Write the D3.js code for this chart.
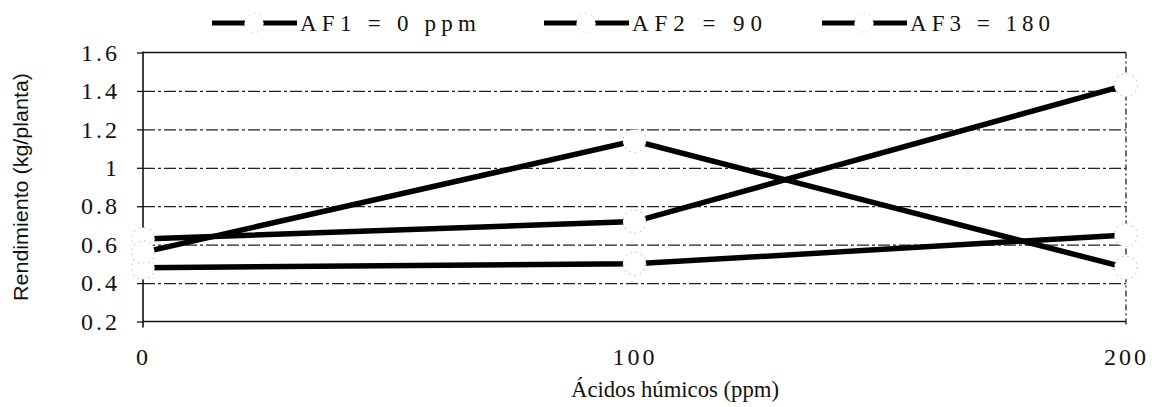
<!DOCTYPE html>
<html>
<head>
<meta charset="utf-8">
<script src="https://cdn.jsdelivr.net/npm/d3@7"></script>
<style>
  body { margin: 0; background: #fff; }
  svg { display: block; }
</style>
</head>
<body>
<svg id="chart" width="1152" height="407"></svg>
<script>
// Yield per plant against humic acid dose, for three fulvic acid levels
const categories = ["0", "100", "200"];
const seriesNames = ["AF1 = 0 ppm", "AF2 = 90", "AF3 = 180"];
const af1 = [0.48, 0.50, 0.65];
const af2 = [0.63, 0.72, 1.43];
const af3 = [0.56, 1.14, 0.48];
const yTicks = [0.2, 0.4, 0.6, 0.8, 1, 1.2, 1.4, 1.6];
const xTitle = "Ácidos húmicos (ppm)";
const yTitle = "Rendimiento (kg/planta)";

const series = [af1, af2, af3];

const svg = d3.select("#chart");
const plotLeft = 143, plotRight = 1126, plotTop = 52.5, plotBottom = 321.5;
const serif = "'Liberation Serif', 'Times New Roman', serif";

const x = d3.scalePoint().domain(categories).range([plotLeft, plotRight]);
const y = d3.scaleLinear().domain([0.2, 1.6]).range([plotBottom, plotTop]);

// dashed horizontal gridlines
const grid = svg.append("g")
  .attr("transform", `translate(${plotLeft},0)`)
  .call(d3.axisLeft(y).tickValues(yTicks.filter(v => v > 0.2 && v < 1.6))
    .tickSize(-(plotRight - plotLeft)).tickFormat(""));
grid.select(".domain").remove();
grid.selectAll("line")
  .attr("stroke", "#222")
  .attr("stroke-width", 1.2)
  .attr("stroke-dasharray", "12,3,3,3");

// plot frame: solid top and bottom, dashed right side
svg.append("line").attr("x1", plotLeft).attr("x2", plotRight).attr("y1", plotTop).attr("y2", plotTop)
  .attr("stroke", "#111").attr("stroke-width", 1.4);
svg.append("line").attr("x1", plotLeft).attr("x2", plotRight).attr("y1", plotBottom).attr("y2", plotBottom)
  .attr("stroke", "#111").attr("stroke-width", 1.4);
svg.append("line").attr("x1", plotRight).attr("x2", plotRight).attr("y1", plotTop).attr("y2", plotBottom + 5)
  .attr("stroke", "#222").attr("stroke-width", 1.3).attr("stroke-dasharray", "6,3,2,3");

// y axis with tick labels
const yAxis = svg.append("g")
  .attr("transform", `translate(${plotLeft},0)`)
  .call(d3.axisLeft(y).tickValues(yTicks).tickSize(6).tickPadding(17)
    .tickFormat(d3.format("")));
yAxis.attr("font-family", serif);
yAxis.select(".domain").remove();
yAxis.selectAll("line").attr("stroke", "#111").attr("stroke-width", 1.3);
yAxis.selectAll("text")
  .style("font-family", serif)
  .attr("font-size", 24)
  .attr("letter-spacing", 3)
  .attr("fill", "#111");
svg.append("line").attr("x1", plotLeft).attr("x2", plotLeft).attr("y1", plotTop - 1).attr("y2", plotBottom + 6)
  .attr("stroke", "#111").attr("stroke-width", 1.6);

// x axis tick labels
const xAxis = svg.append("g")
  .attr("transform", `translate(0,${plotBottom})`)
  .call(d3.axisBottom(x).tickSize(0).tickPadding(26));
xAxis.attr("font-family", serif);
xAxis.select(".domain").remove();
xAxis.selectAll("text")
  .style("font-family", serif)
  .attr("font-size", 24)
  .attr("letter-spacing", 3)
  .attr("fill", "#111");

// series lines
const line = d3.line()
  .x((d, i) => x(categories[i]))
  .y(d => y(d));

svg.append("g").selectAll("path").data(series).join("path")
  .attr("d", line)
  .attr("fill", "none")
  .attr("stroke", "#000")
  .attr("stroke-width", 5.5);

// hollow round markers that break the lines at each data point
svg.append("g").selectAll("g").data(series).join("g")
  .selectAll("circle").data(d => d).join("circle")
  .attr("cx", (d, i) => x(categories[i]))
  .attr("cy", d => y(d))
  .attr("r", 11.5)
  .attr("fill", "#fff")
  .attr("stroke", "#c4c4c4")
  .attr("stroke-width", 1.1)
  .attr("stroke-dasharray", "1.5,4");

// legend across the top
const legendX = [212, 544, 822];
const legendTextW = [176, 130, 140];
const legend = svg.append("g").selectAll("g").data(seriesNames).join("g")
  .attr("transform", (d, i) => `translate(${legendX[i]},23)`);
legend.append("line")
  .attr("x1", 0).attr("x2", 85).attr("y1", 0).attr("y2", 0)
  .attr("stroke", "#000").attr("stroke-width", 5);
legend.append("circle")
  .attr("cx", 42).attr("cy", 0).attr("r", 9.5)
  .attr("fill", "#fff")
  .attr("stroke", "#d0d0d0")
  .attr("stroke-width", 1)
  .attr("stroke-dasharray", "1.5,4");
legend.append("text")
  .attr("x", 88).attr("y", 8)
  .style("font-family", serif)
  .attr("font-size", 23)
  .attr("textLength", (d, i) => legendTextW[i])
  .attr("lengthAdjust", "spacing")
  .attr("fill", "#111")
  .text(d => d);

// axis titles
svg.append("text")
  .attr("x", 675).attr("y", 397)
  .attr("text-anchor", "middle")
  .style("font-family", serif)
  .attr("font-size", 23)
  .attr("textLength", 208)
  .attr("lengthAdjust", "spacingAndGlyphs")
  .attr("fill", "#111")
  .text(xTitle);

svg.append("text")
  .attr("transform", "translate(28,187) rotate(-90)")
  .attr("text-anchor", "middle")
  .style("font-family", "'Liberation Sans Narrow', 'Liberation Sans', Arial, sans-serif")
  .attr("font-size", 20)
  .attr("textLength", 228)
  .attr("lengthAdjust", "spacingAndGlyphs")
  .attr("fill", "#111")
  .text(yTitle);
</script>
</body>
</html>
